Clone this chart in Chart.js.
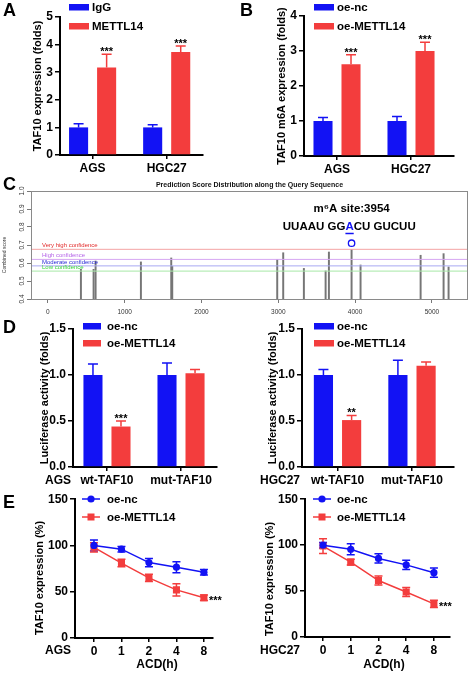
<!DOCTYPE html>
<html>
<head>
<meta charset="utf-8">
<script src="https://cdn.jsdelivr.net/npm/chart.js@4.4.1/dist/chart.umd.min.js"></script>
<style>
  body { margin: 0; background: #fff; }
  #lienzo { position: relative; width: 474px; height: 673px; overflow: hidden; font-family: "Liberation Sans", Arial, sans-serif; }
  canvas { position: absolute; }
  .letra { position: absolute; font-size: 18px; font-weight: bold; line-height: 1; z-index: 2; }
</style>
</head>
<body>
<div id="lienzo">
  <canvas id="cA" width="237" height="180" style="left:0;top:0"></canvas>
  <canvas id="cB" width="237" height="180" style="left:237px;top:0"></canvas>
  <canvas id="cC" width="474" height="144" style="left:0;top:176px"></canvas>
  <canvas id="cD1" width="237" height="172" style="left:0;top:318px"></canvas>
  <canvas id="cD2" width="237" height="172" style="left:237px;top:318px"></canvas>
  <canvas id="cE1" width="237" height="183" style="left:0;top:490px"></canvas>
  <canvas id="cE2" width="237" height="183" style="left:237px;top:490px"></canvas>
  <div class="letra" style="left:3px;top:1px">A</div>
  <div class="letra" style="left:240px;top:1px">B</div>
  <div class="letra" style="left:3px;top:175px">C</div>
  <div class="letra" style="left:3px;top:318px">D</div>
  <div class="letra" style="left:3px;top:493px">E</div>
</div>
<script>
const FUENTE = '"Liberation Sans", Arial, sans-serif';
const AZUL = '#1212f4';
const ROJO = '#f33d3d';

// A - TAF10 expression
const gruposA = ['AGS', 'HGC27'];
const igg = [1.0, 1.0];
const iggErr = [0.13, 0.10];
const mettl14 = [3.17, 3.73];
const mettl14Err = [0.48, 0.22];
const estrellasA = ['***', '***'];

// B - TAF10 m6A
const gruposB = ['AGS', 'HGC27'];
const ncB = [1.0, 1.0];
const ncBErr = [0.10, 0.13];
const oeB = [2.62, 3.0];
const oeBErr = [0.27, 0.25];
const estrellasB = ['***', '***'];

// C - SRAMP
const sitios = [430, 595, 621, 1211, 1606, 1619, 2986, 3064, 3333, 3616, 3659, 3954, 4071, 4853, 5152, 5217];
const puntaje = [0.565, 0.565, 0.611, 0.606, 0.628, 0.581, 0.620, 0.657, 0.570, 0.556, 0.661, 0.675, 0.589, 0.643, 0.652, 0.578];
const niveles = ['Very high confidence', 'High confidence', 'Moderate confidence', 'Low confidence'];
const nivelValor = [0.676, 0.620, 0.584, 0.555];
const sitioMarcado = 3954;
const sitioMarcadoValor = 0.71;
const ticksC = [0, 1000, 2000, 3000, 4000, 5000];
const rangoC = [-220, 5470];

// D - luciferasa
const gruposD = ['wt-TAF10', 'mut-TAF10'];
const lucNcAGS = [1.0, 1.0];
const lucNcAGSErr = [0.12, 0.13];
const lucOeAGS = [0.44, 1.02];
const lucOeAGSErr = [0.06, 0.04];
const estrellasD1 = ['***', ''];
const lucNcHGC = [1.0, 1.0];
const lucNcHGCErr = [0.06, 0.16];
const lucOeHGC = [0.51, 1.10];
const lucOeHGCErr = [0.05, 0.04];
const estrellasD2 = ['**', ''];

// E - estabilidad (ACD)
const horas = ['0', '1', '2', '4', '8'];
const ncAGS = [100, 96, 81.5, 76.5, 71];
const ncAGSErr = [6, 3, 4.5, 6, 3];
const oeAGS = [98, 81, 65, 52, 43.5];
const oeAGSErr = [5, 4, 4, 6.5, 3];
const ncHGC = [100, 95.5, 85.5, 78.5, 70];
const ncHGCErr = [3, 6, 5, 5, 5];
const oeHGC = [99, 81.5, 61.5, 49, 36];
const oeHGCErr = [8, 3, 5, 5, 4];
const estrellasE = ['', '', '', '', '***'];

const pts = vals => vals.map((v, i) => ({ x: i, y: v }));

// barras de error (solo hacia arriba en barras, a ambos lados en lineas)
const pluginErrores = {
  id: 'errores',
  beforeDatasetsDraw(chart) {
    const { ctx, scales: { y } } = chart;
    chart.data.datasets.forEach((ds, i) => {
      if (!ds.errores) return;
      const meta = chart.getDatasetMeta(i);
      const linea = ds.type === 'line';
      const cap = linea ? 4 : 5;
      ctx.save();
      ctx.strokeStyle = ds.borderColor;
      ctx.lineWidth = 1.5;
      meta.data.forEach((el, j) => {
        const v = ds.data[j].y, e = ds.errores[j];
        const arriba = y.getPixelForValue(v + e);
        const abajo = linea ? y.getPixelForValue(v - e) : el.y;
        ctx.beginPath();
        ctx.moveTo(el.x, abajo);
        ctx.lineTo(el.x, arriba);
        ctx.moveTo(el.x - cap, arriba);
        ctx.lineTo(el.x + cap, arriba);
        if (linea) {
          ctx.moveTo(el.x - cap, abajo);
          ctx.lineTo(el.x + cap, abajo);
        }
        ctx.stroke();
      });
      ctx.restore();
    });
  }
};

const pluginEstrellas = {
  id: 'estrellas',
  afterDatasetsDraw(chart) {
    const { ctx, scales: { y } } = chart;
    chart.data.datasets.forEach((ds, i) => {
      if (!ds.estrellas) return;
      const meta = chart.getDatasetMeta(i);
      ctx.save();
      ctx.fillStyle = '#000';
      ctx.font = 'bold 11px ' + FUENTE;
      ctx.textBaseline = 'alphabetic';
      meta.data.forEach((el, j) => {
        const s = ds.estrellas[j];
        if (!s) return;
        if (ds.type === 'line') {
          ctx.textAlign = 'left';
          ctx.fillText(s, el.x + 5, el.y + 6);
        } else {
          ctx.textAlign = 'center';
          ctx.fillText(s, el.x, y.getPixelForValue(ds.data[j].y + ds.errores[j]) + 1);
        }
      });
      ctx.restore();
    });
  }
};

function pluginLeyenda(l) {
  return {
    id: 'leyenda',
    afterDraw(chart) {
      const ctx = chart.ctx;
      chart.data.datasets.forEach((ds, i) => {
        const y = l.y[i];
        ctx.save();
        if (l.tipo === 'caja') {
          ctx.fillStyle = ds.backgroundColor;
          ctx.fillRect(l.x, y - 3, l.w, 6.5);
        } else {
          ctx.strokeStyle = ds.borderColor;
          ctx.lineWidth = 1.5;
          ctx.beginPath();
          ctx.moveTo(l.x, y);
          ctx.lineTo(l.x + l.w, y);
          ctx.stroke();
          ctx.fillStyle = ds.backgroundColor;
          const cx = l.x + l.w / 2;
          if (ds.pointStyle === 'rect') {
            ctx.fillRect(cx - 3.5, y - 3.5, 7, 7);
          } else {
            ctx.beginPath();
            ctx.arc(cx, y, 3.6, 0, Math.PI * 2);
            ctx.fill();
          }
        }
        ctx.fillStyle = '#000';
        ctx.font = 'bold 11.5px ' + FUENTE;
        ctx.textAlign = 'left';
        ctx.textBaseline = 'middle';
        ctx.fillText(ds.label, l.xt, y + 0.5);
        ctx.restore();
      });
    }
  };
}

function pluginTextos(lista) {
  return {
    id: 'textos',
    afterDraw(chart) {
      const ctx = chart.ctx;
      lista.forEach(t => {
        ctx.save();
        ctx.font = t.font || ('bold 11px ' + FUENTE);
        ctx.fillStyle = t.color || '#000';
        ctx.textAlign = t.align || 'center';
        ctx.textBaseline = 'middle';
        ctx.translate(t.x, t.y);
        if (t.rot) ctx.rotate(t.rot);
        ctx.fillText(t.text, 0, 0);
        ctx.restore();
      });
    }
  };
}

function opciones(p, etiquetas) {
  const fuenteEje = { family: FUENTE, size: 12, weight: 'bold' };
  return {
    responsive: false,
    animation: false,
    devicePixelRatio: 1,
    events: [],
    layout: { padding: { left: 0, top: p.area.t, right: p.ancho - p.area.r, bottom: 0 } },
    plugins: { legend: { display: false }, tooltip: { enabled: false } },
    scales: {
      x: {
        type: 'linear', min: p.xmin, max: p.xmax, offset: false,
        afterBuildTicks: s => { s.ticks = etiquetas.map((e, i) => ({ value: i })); },
        ticks: { autoSkip: false, maxRotation: 0, color: '#000', padding: 2, font: fuenteEje, callback: v => etiquetas[v] },
        grid: { drawOnChartArea: false, offset: false, tickLength: 4, color: '#000', lineWidth: 1.5 },
        border: { color: '#000', width: 2 },
        afterFit: s => { s.height = p.alto - p.area.b; }
      },
      y: {
        min: 0, max: p.ymax,
        ticks: { stepSize: p.paso, color: '#000', padding: 2, font: fuenteEje, callback: v => v.toFixed(p.dec) },
        grid: { drawOnChartArea: false, tickLength: 5, color: '#000', lineWidth: 1.5 },
        border: { color: '#000', width: 2 },
        afterFit: s => { s.width = p.area.l; }
      }
    }
  };
}

function panelBarras(id, p) {
  new Chart(document.getElementById(id), {
    type: 'bar',
    data: {
      datasets: p.series.map(s => ({
        label: s.label,
        data: pts(s.datos),
        backgroundColor: s.color,
        borderColor: s.color,
        borderWidth: 0,
        errores: s.err,
        estrellas: s.estrellas,
        categoryPercentage: 0.757,
        barPercentage: 0.68
      }))
    },
    options: opciones(p, p.grupos),
    plugins: [pluginErrores, pluginEstrellas, pluginLeyenda(p.leyenda), pluginTextos(p.textos)]
  });
}

function panelLineas(id, p) {
  new Chart(document.getElementById(id), {
    type: 'line',
    data: {
      datasets: p.series.map(s => ({
        type: 'line',
        label: s.label,
        data: pts(s.datos),
        borderColor: s.color,
        backgroundColor: s.color,
        borderWidth: 1.5,
        pointStyle: s.punto,
        pointRadius: s.punto === 'rect' ? 5 : 3.6,
        pointBorderWidth: 0,
        tension: 0,
        fill: false,
        errores: s.err,
        estrellas: s.estrellas
      }))
    },
    options: opciones(p, horas),
    plugins: [pluginErrores, pluginEstrellas, pluginLeyenda(p.leyenda), pluginTextos(p.textos)]
  });
}

const rot = -Math.PI / 2;

// A
panelBarras('cA', {
  grupos: gruposA, ancho: 237, alto: 180,
  area: { l: 60, t: 17, r: 203, b: 155 }, xmin: -0.44, xmax: 1.49, ymax: 5, paso: 1, dec: 0,
  series: [
    { label: 'IgG', datos: igg, err: iggErr, color: AZUL },
    { label: 'METTL14', datos: mettl14, err: mettl14Err, color: ROJO, estrellas: estrellasA }
  ],
  leyenda: { tipo: 'caja', x: 69, w: 20, xt: 92, y: [7, 26] },
  textos: [{ text: 'TAF10 expression (folds)', x: 38, y: 86, rot }]
});

// B
panelBarras('cB', {
  grupos: gruposB, ancho: 237, alto: 180,
  area: { l: 67, t: 16, r: 217, b: 156 }, xmin: -0.446, xmax: 1.581, ymax: 4, paso: 1, dec: 0,
  series: [
    { label: 'oe-nc', datos: ncB, err: ncBErr, color: AZUL },
    { label: 'oe-METTL14', datos: oeB, err: oeBErr, color: ROJO, estrellas: estrellasB }
  ],
  leyenda: { tipo: 'caja', x: 77, w: 20, xt: 100, y: [7, 26] },
  textos: [{ text: 'TAF10 m6A expression (folds)', x: 45, y: 86, rot }]
});

// C
const colorLinea = ['#f4a4a4', '#d6a6f2', '#a8a8f2', '#a6e8a6'];
const colorTexto = ['#e22a2a', '#b564e8', '#2a2ad6', '#3ad63a'];

const pluginC = {
  id: 'extrasC',
  afterDraw(chart) {
    const { ctx, chartArea: a, scales: { x, y } } = chart;
    ctx.save();
    ctx.strokeStyle = '#8a8a8a';
    ctx.lineWidth = 1;
    ctx.strokeRect(a.left + 0.5, a.top + 0.5, a.right - a.left - 1, a.bottom - a.top);
    ctx.fillStyle = '#333';
    ctx.font = '6.5px ' + FUENTE;
    ctx.textAlign = 'center';
    ctx.textBaseline = 'middle';
    y.ticks.forEach(t => {
      ctx.save();
      ctx.translate(a.left - 9, y.getPixelForValue(t.value));
      ctx.rotate(rot);
      ctx.fillText(t.value.toFixed(1), 0, 0);
      ctx.restore();
    });
    ctx.save();
    ctx.translate(5, 79);
    ctx.rotate(rot);
    ctx.font = '5px ' + FUENTE;
    ctx.fillText('Combined score', 0, 0);
    ctx.restore();
    ctx.font = 'bold 7px ' + FUENTE;
    ctx.fillStyle = '#111';
    ctx.fillText('Prediction Score Distribution along the Query Sequence', (a.left + a.right) / 2, 9);
    ctx.font = '6px ' + FUENTE;
    ctx.textAlign = 'left';
    niveles.forEach((n, i) => {
      ctx.fillStyle = colorTexto[i];
      ctx.fillText(n, a.left + 11, y.getPixelForValue(nivelValor[i]) - 4);
    });
    // anotacion del sitio
    const cx = x.getPixelForValue(sitioMarcado);
    ctx.fillStyle = '#000';
    ctx.textAlign = 'center';
    ctx.font = 'bold 11.5px ' + FUENTE;
    ctx.fillText('m\u2076A site:' + sitioMarcado, cx, 33);
    const partes = ['UUAAU GG', 'A', 'CU GUCUU'];
    const anchos = partes.map(s => ctx.measureText(s).width);
    let px = cx - 2 - anchos[0] - anchos[1] / 2;
    ctx.textAlign = 'left';
    partes.forEach((s, i) => {
      ctx.fillStyle = i === 1 ? AZUL : '#000';
      ctx.fillText(s, px, 51);
      if (i === 1) {
        ctx.strokeStyle = AZUL;
        ctx.lineWidth = 1.5;
        ctx.beginPath();
        ctx.moveTo(px, 57.5);
        ctx.lineTo(px + anchos[1], 57.5);
        ctx.stroke();
      }
      px += anchos[i];
    });
    ctx.restore();
  }
};

new Chart(document.getElementById('cC'), {
  type: 'bar',
  data: {
    datasets: [
      ...niveles.map((n, i) => ({
        type: 'line', label: n,
        data: rangoC.map(v => ({ x: v, y: nivelValor[i] })),
        borderColor: colorLinea[i], borderWidth: 1, pointRadius: 0
      })),
      {
        type: 'line', label: 'sitio',
        data: [{ x: sitioMarcado, y: sitioMarcadoValor }],
        showLine: false, pointRadius: 3.2, pointBorderWidth: 1.3,
        borderColor: AZUL, backgroundColor: 'rgba(0,0,0,0)', pointBackgroundColor: 'rgba(0,0,0,0)'
      },
      {
        type: 'bar', label: 'score',
        data: sitios.map((s, i) => ({ x: s, y: [0.4, puntaje[i]] })),
        backgroundColor: '#767676', barThickness: 1.3
      }
    ]
  },
  options: {
    responsive: false, animation: false, devicePixelRatio: 1, events: [],
    layout: { padding: { left: 0, top: 15, right: 6, bottom: 0 } },
    plugins: { legend: { display: false }, tooltip: { enabled: false } },
    scales: {
      x: {
        type: 'linear', min: rangoC[0], max: rangoC[1], offset: false,
        afterBuildTicks: s => { s.ticks = ticksC.map(v => ({ value: v })); },
        ticks: { color: '#333', padding: 5, maxRotation: 0, font: { family: FUENTE, size: 6.5 }, callback: v => String(v) },
        grid: { drawOnChartArea: false, offset: false, tickLength: 4, color: '#555', lineWidth: 0.8 },
        border: { display: false },
        afterFit: s => { s.height = 21; }
      },
      y: {
        min: 0.4, max: 1.0,
        ticks: { stepSize: 0.1, display: false },
        grid: { drawOnChartArea: false, tickLength: 4, color: '#555', lineWidth: 0.8 },
        border: { display: false },
        afterFit: s => { s.width = 31; }
      }
    }
  },
  plugins: [pluginC]
});

// D
panelBarras('cD1', {
  grupos: gruposD, ancho: 237, alto: 172,
  area: { l: 73, t: 11, r: 217, b: 149 }, xmin: -0.459, xmax: 1.486, ymax: 1.5, paso: 0.5, dec: 1,
  series: [
    { label: 'oe-nc', datos: lucNcAGS, err: lucNcAGSErr, color: AZUL },
    { label: 'oe-METTL14', datos: lucOeAGS, err: lucOeAGSErr, color: ROJO, estrellas: estrellasD1 }
  ],
  leyenda: { tipo: 'caja', x: 83, w: 18, xt: 107, y: [8, 25] },
  textos: [
    { text: 'Luciferase activity (folds)', x: 45, y: 80, rot },
    { text: 'AGS', x: 58, y: 163, font: 'bold 12px ' + FUENTE }
  ]
});

panelBarras('cD2', {
  grupos: gruposD, ancho: 237, alto: 172,
  area: { l: 65, t: 11, r: 217, b: 149 }, xmin: -0.477, xmax: 1.564, ymax: 1.5, paso: 0.5, dec: 1,
  series: [
    { label: 'oe-nc', datos: lucNcHGC, err: lucNcHGCErr, color: AZUL },
    { label: 'oe-METTL14', datos: lucOeHGC, err: lucOeHGCErr, color: ROJO, estrellas: estrellasD2 }
  ],
  leyenda: { tipo: 'caja', x: 77, w: 20, xt: 100, y: [8, 25] },
  textos: [
    { text: 'Luciferase activity (folds)', x: 36, y: 80, rot },
    { text: 'HGC27', x: 43, y: 163, font: 'bold 12px ' + FUENTE }
  ]
});

// E
panelLineas('cE1', {
  ancho: 237, alto: 183,
  area: { l: 75, t: 9, r: 213, b: 148 }, xmin: -0.69, xmax: 4.33, ymax: 150, paso: 50, dec: 0,
  series: [
    { label: 'oe-nc', datos: ncAGS, err: ncAGSErr, color: AZUL, punto: 'circle' },
    { label: 'oe-METTL14', datos: oeAGS, err: oeAGSErr, color: ROJO, punto: 'rect', estrellas: estrellasE }
  ],
  leyenda: { tipo: 'linea', x: 82, w: 18, xt: 107, y: [9, 27] },
  textos: [
    { text: 'TAF10 expression (%)', x: 40, y: 88, rot },
    { text: 'AGS', x: 58, y: 161, font: 'bold 12px ' + FUENTE },
    { text: 'ACD(h)', x: 157, y: 175, font: 'bold 12px ' + FUENTE }
  ]
});

panelLineas('cE2', {
  ancho: 237, alto: 183,
  area: { l: 68, t: 9, r: 213, b: 147 }, xmin: -0.65, xmax: 4.58, ymax: 150, paso: 50, dec: 0,
  series: [
    { label: 'oe-nc', datos: ncHGC, err: ncHGCErr, color: AZUL, punto: 'circle' },
    { label: 'oe-METTL14', datos: oeHGC, err: oeHGCErr, color: ROJO, punto: 'rect', estrellas: estrellasE }
  ],
  leyenda: { tipo: 'linea', x: 76, w: 18, xt: 100, y: [9, 27] },
  textos: [
    { text: 'TAF10 expression (%)', x: 33, y: 89, rot },
    { text: 'HGC27', x: 43, y: 161, font: 'bold 12px ' + FUENTE },
    { text: 'ACD(h)', x: 147, y: 175, font: 'bold 12px ' + FUENTE }
  ]
});
</script>
</body>
</html>
